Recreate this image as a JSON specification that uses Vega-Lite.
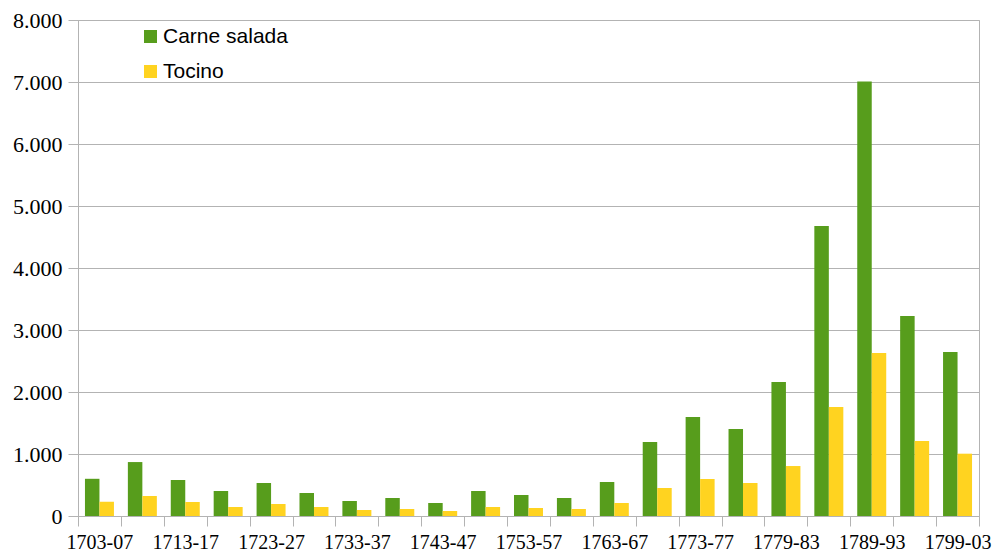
{
  "$schema": "https://vega.github.io/schema/vega-lite/v6.json",
  "autosize": "none",
  "width": 901,
  "height": 496,
  "padding": {"left": 78, "top": 20, "right": 14, "bottom": 39},
  "background": "white",
  "config": {
    "locale": {"number": {"decimal": ",", "thousands": ".", "grouping": [3], "currency": ["", " €"]}},
    "view": {"stroke": "#b3b3b3", "strokeWidth": 1}
  },
  "data": {
    "values": [
      {"periodo": "1703-07", "serie": "Carne salada", "valor": 600},
      {"periodo": "1703-07", "serie": "Tocino", "valor": 228},
      {"periodo": "1708-12", "serie": "Carne salada", "valor": 870},
      {"periodo": "1708-12", "serie": "Tocino", "valor": 323},
      {"periodo": "1713-17", "serie": "Carne salada", "valor": 581},
      {"periodo": "1713-17", "serie": "Tocino", "valor": 226},
      {"periodo": "1718-22", "serie": "Carne salada", "valor": 403},
      {"periodo": "1718-22", "serie": "Tocino", "valor": 145},
      {"periodo": "1723-27", "serie": "Carne salada", "valor": 532},
      {"periodo": "1723-27", "serie": "Tocino", "valor": 194},
      {"periodo": "1728-32", "serie": "Carne salada", "valor": 371},
      {"periodo": "1728-32", "serie": "Tocino", "valor": 145},
      {"periodo": "1733-37", "serie": "Carne salada", "valor": 242},
      {"periodo": "1733-37", "serie": "Tocino", "valor": 97},
      {"periodo": "1738-42", "serie": "Carne salada", "valor": 290},
      {"periodo": "1738-42", "serie": "Tocino", "valor": 113},
      {"periodo": "1743-47", "serie": "Carne salada", "valor": 210},
      {"periodo": "1743-47", "serie": "Tocino", "valor": 81},
      {"periodo": "1748-52", "serie": "Carne salada", "valor": 403},
      {"periodo": "1748-52", "serie": "Tocino", "valor": 145},
      {"periodo": "1753-57", "serie": "Carne salada", "valor": 339},
      {"periodo": "1753-57", "serie": "Tocino", "valor": 129},
      {"periodo": "1758-62", "serie": "Carne salada", "valor": 290},
      {"periodo": "1758-62", "serie": "Tocino", "valor": 113},
      {"periodo": "1763-67", "serie": "Carne salada", "valor": 548},
      {"periodo": "1763-67", "serie": "Tocino", "valor": 210},
      {"periodo": "1768-72", "serie": "Carne salada", "valor": 1194},
      {"periodo": "1768-72", "serie": "Tocino", "valor": 452},
      {"periodo": "1773-77", "serie": "Carne salada", "valor": 1597},
      {"periodo": "1773-77", "serie": "Tocino", "valor": 597},
      {"periodo": "1778", "serie": "Carne salada", "valor": 1403},
      {"periodo": "1778", "serie": "Tocino", "valor": 532},
      {"periodo": "1779-83", "serie": "Carne salada", "valor": 2161},
      {"periodo": "1779-83", "serie": "Tocino", "valor": 806},
      {"periodo": "1784-88", "serie": "Carne salada", "valor": 4677},
      {"periodo": "1784-88", "serie": "Tocino", "valor": 1758},
      {"periodo": "1789-93", "serie": "Carne salada", "valor": 7010},
      {"periodo": "1789-93", "serie": "Tocino", "valor": 2629},
      {"periodo": "1794-98", "serie": "Carne salada", "valor": 3226},
      {"periodo": "1794-98", "serie": "Tocino", "valor": 1210},
      {"periodo": "1799-03", "serie": "Carne salada", "valor": 2645},
      {"periodo": "1799-03", "serie": "Tocino", "valor": 1005}
    ]
  },
  "mark": {"type": "bar"},
  "encoding": {
    "x": {
      "field": "periodo",
      "type": "nominal",
      "sort": null,
      "scale": {"paddingInner": 0, "paddingOuter": 0},
      "axis": {
        "title": null,
        "labelAngle": 0,
        "tickBand": "extent",
        "labelOverlap": false,
        "labelExpr": "indexof(['1703-07','1713-17','1723-27','1733-37','1743-47','1753-57','1763-67','1773-77','1779-83','1789-93','1799-03'], datum.value) >= 0 ? datum.label : ''",
        "labelFont": "Liberation Serif",
        "labelFontSize": 20,
        "labelColor": "#000000",
        "labelPadding": 6,
        "labelBound": false,
        "domainColor": "#b3b3b3",
        "tickColor": "#b3b3b3",
        "tickSize": 10,
        "grid": false
      }
    },
    "xOffset": {
      "field": "serie",
      "type": "nominal",
      "sort": ["Carne salada", "Tocino"],
      "scale": {"paddingInner": 0, "paddingOuter": 0.48}
    },
    "y": {
      "field": "valor",
      "type": "quantitative",
      "scale": {"domain": [0, 8000], "nice": false},
      "axis": {
        "title": null,
        "values": [0, 1000, 2000, 3000, 4000, 5000, 6000, 7000, 8000],
        "format": ",d",
        "labelFont": "Liberation Serif",
        "labelFontSize": 22,
        "labelColor": "#000000",
        "labelPadding": 6,
        "tickSize": 10,
        "tickColor": "#b3b3b3",
        "domainColor": "#b3b3b3",
        "grid": true,
        "gridColor": "#b3b3b3"
      }
    },
    "color": {
      "field": "serie",
      "type": "nominal",
      "sort": ["Carne salada", "Tocino"],
      "scale": {"domain": ["Carne salada", "Tocino"], "range": ["#579d1c", "#ffd320"]},
      "legend": {
        "title": null,
        "orient": "none",
        "legendX": 62,
        "legendY": 6,
        "padding": 0,
        "symbolType": "square",
        "symbolSize": 169,
        "symbolStrokeWidth": 0,
        "labelFont": "Liberation Sans",
        "labelFontSize": 21,
        "labelColor": "#000000",
        "labelOffset": 2,
        "rowPadding": 13
      }
    }
  }
}
